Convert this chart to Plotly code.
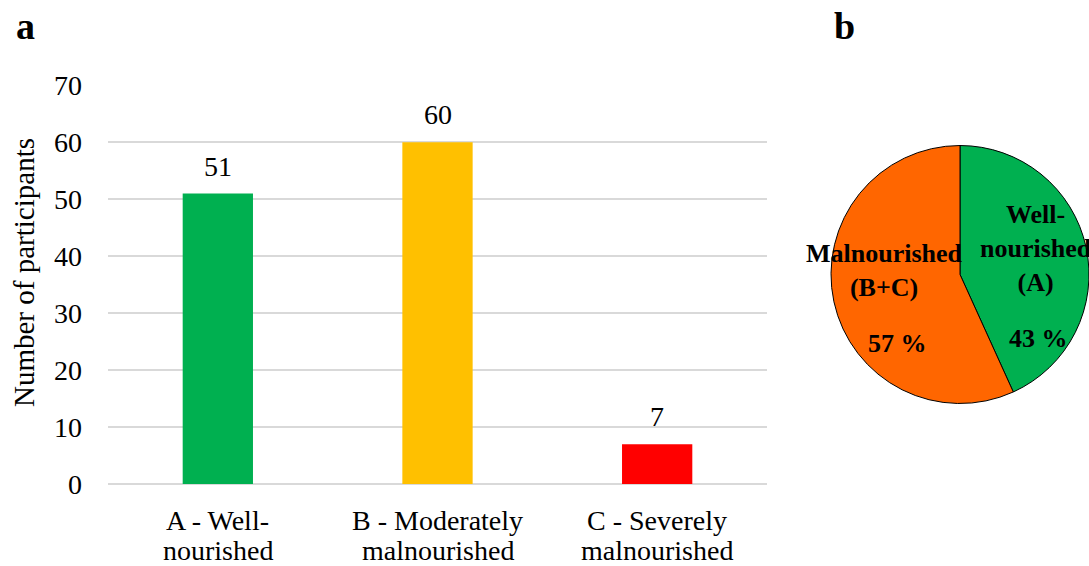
import plotly.graph_objects as go

# Participant counts by nutritional status
categories = ["A - Well-nourished", "B - Moderately malnourished", "C - Severely malnourished"]
label_line1 = ["A - Well-", "B - Moderately", "C - Severely"]
label_line2 = ["nourished", "malnourished", "malnourished"]
counts = [51, 60, 7]
bar_colors = ["#00b050", "#ffc000", "#ff0000"]

# Pie groups: well-nourished (A) vs malnourished (B+C)
pie_labels = ["Well-nourished (A)", "Malnourished (B+C)"]
pie_values = [counts[0], counts[1] + counts[2]]
pie_colors = ["#00b050", "#ff6600"]

y_ticks = [0, 10, 20, 30, 40, 50, 60, 70]

FONT = "Liberation Serif, Times New Roman, serif"
W, H = 1089, 566

fig = go.Figure()

fig.add_trace(go.Bar(
    x=categories, y=counts,
    marker=dict(color=bar_colors, line=dict(width=0)),
    width=0.32,
    showlegend=False,
    hoverinfo="x+y",
))

fig.add_trace(go.Pie(
    labels=pie_labels, values=pie_values,
    marker=dict(colors=pie_colors, line=dict(color="#000000", width=1)),
    sort=False, direction="clockwise", rotation=0,
    textinfo="none", showlegend=False,
    domain=dict(x=[831 / W, 1.0], y=[0.25, 0.78]),
))

annotations = []

# value labels above each bar
for cat, v in zip(categories, counts):
    annotations.append(dict(
        x=cat, y=v, xref="x", yref="y", text=str(v), showarrow=False,
        yanchor="bottom", yshift=10, font=dict(family=FONT, size=28, color="#000000"),
    ))

# two-line category labels under the axis
for cat, l1, l2 in zip(categories, label_line1, label_line2):
    annotations.append(dict(
        x=cat, y=1 - 520 / H, xref="x", yref="paper", text=l1, showarrow=False,
        yanchor="middle", font=dict(family=FONT, size=28, color="#000000"),
    ))
    annotations.append(dict(
        x=cat, y=1 - 550 / H, xref="x", yref="paper", text=l2, showarrow=False,
        yanchor="middle", font=dict(family=FONT, size=28, color="#000000"),
    ))

# y-axis title
annotations.append(dict(
    x=24 / W, y=1 - 273 / H, xref="paper", yref="paper", text="Number of participants",
    textangle=-90, showarrow=False, xanchor="center", yanchor="middle",
    font=dict(family=FONT, size=29, color="#000000"),
))

# pie slice labels
total = sum(pie_values)
pct = [round(100 * v / total) for v in pie_values]
pie_font = dict(family=FONT, size=26, color="#000000")
annotations += [
    dict(x=1036 / W, y=1 - 248 / H, xref="paper", yref="paper",
         text="<b>Well-<br>nourished<br>(A)</b>", showarrow=False,
         xanchor="center", yanchor="middle", font=pie_font),
    dict(x=1038 / W, y=1 - 338 / H, xref="paper", yref="paper",
         text=f"<b>{pct[0]} %</b>", showarrow=False,
         xanchor="center", yanchor="middle", font=pie_font),
    dict(x=884 / W, y=1 - 270 / H, xref="paper", yref="paper",
         text="<b>Malnourished<br>(B+C)</b>", showarrow=False,
         xanchor="center", yanchor="middle", font=pie_font),
    dict(x=897 / W, y=1 - 343 / H, xref="paper", yref="paper",
         text=f"<b>{pct[1]} %</b>", showarrow=False,
         xanchor="center", yanchor="middle", font=pie_font),
]

# panel letters
for letter, px in (("a", 14), ("b", 832)):
    annotations.append(dict(
        x=px / W, y=1 - 26 / H, xref="paper", yref="paper", text=f"<b>{letter}</b>",
        showarrow=False, xanchor="left", yanchor="middle",
        font=dict(family=FONT, size=38, color="#000000"),
    ))

fig.update_layout(
    width=W, height=H,
    margin=dict(l=0, r=0, t=0, b=0, autoexpand=False),
    paper_bgcolor="#ffffff", plot_bgcolor="#ffffff",
    font=dict(family=FONT, size=28, color="#000000"),
    xaxis=dict(
        domain=[108 / W, 767 / W], automargin=False,
        showticklabels=False, showgrid=False, zeroline=False, showline=False,
        ticks="", fixedrange=True,
    ),
    yaxis=dict(
        domain=[1 - 484 / H, 1 - 85 / H], automargin=False,
        range=[0, 70.05], tickvals=y_ticks, ticktext=[str(t) for t in y_ticks],
        showgrid=True, gridcolor="#d9d9d9", gridwidth=2,
        zeroline=True, zerolinecolor="#d9d9d9", zerolinewidth=2,
        showline=False, ticks="", ticklabelstandoff=25,
        tickfont=dict(family=FONT, size=28, color="#000000"),
        fixedrange=True,
    ),
    annotations=annotations,
)

fig.write_html("out.html")
